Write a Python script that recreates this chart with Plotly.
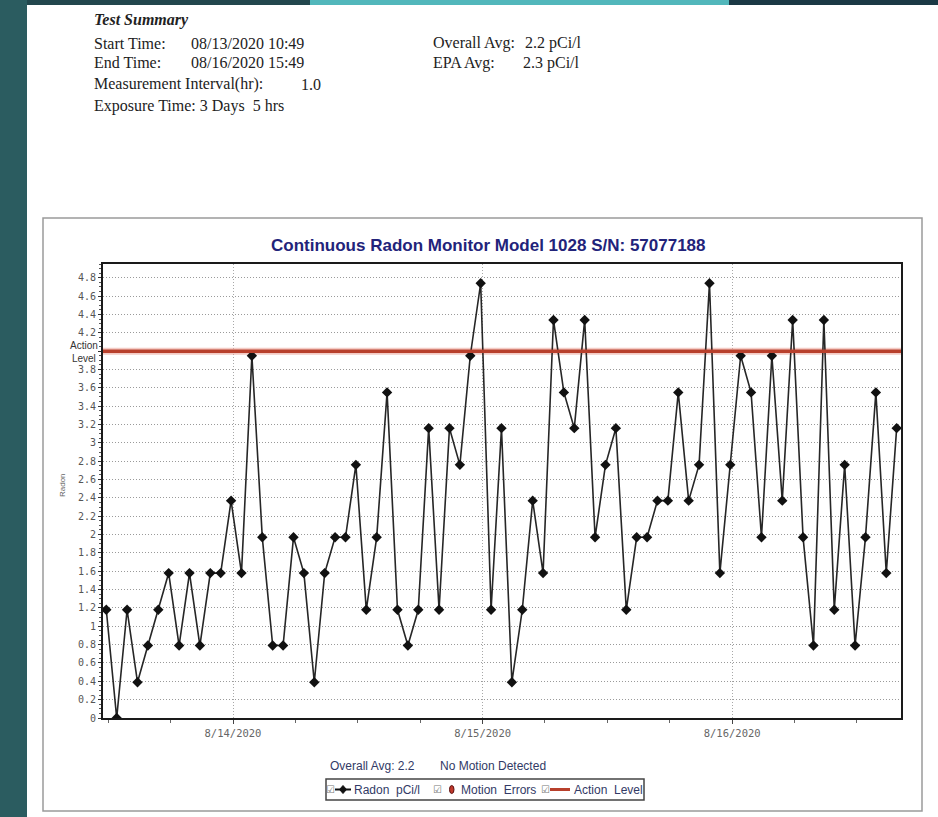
import pandas as pd
import plotly.graph_objects as go

# ---- measurement data (pCi/l), one reading per hour ----
START = "2020-08-13 11:49"
RADON = [
    1.18, 0.00, 1.18, 0.39, 0.79, 1.18, 1.58, 0.79, 1.58, 0.79,
    1.58, 1.58, 2.37, 1.58, 3.95, 1.97, 0.79, 0.79, 1.97, 1.58,
    0.39, 1.58, 1.97, 1.97, 2.76, 1.18, 1.97, 3.55, 1.18, 0.79,
    1.18, 3.16, 1.18, 3.16, 2.76, 3.95, 4.74, 1.18, 3.16,
    0.39, 1.18, 2.37, 1.58, 4.34, 3.55, 3.16, 4.34, 1.97, 2.76,
    3.16, 1.18, 1.97, 1.97, 2.37, 2.37, 3.55, 2.37, 2.76,
    4.74, 1.58, 2.76, 3.95, 3.55, 1.97, 3.95, 2.37, 4.34, 1.97,
    0.79, 4.34, 1.18, 2.76, 0.79, 1.97, 3.55, 1.58, 3.16,
]
ACTION_LEVEL = 4.0
X_RANGE = ["2020-08-13 11:30", "2020-08-16 16:14"]
DAY_TICKS = ["2020-08-14", "2020-08-15", "2020-08-16"]
DAY_LABELS = ["8/14/2020", "8/15/2020", "8/16/2020"]
Y_TICKS = [0, 0.2, 0.4, 0.6, 0.8, 1, 1.2, 1.4, 1.6, 1.8, 2, 2.2, 2.4,
           2.6, 2.8, 3, 3.2, 3.4, 3.6, 3.8, 4, 4.2, 4.4, 4.6, 4.8]

SUMMARY_LEFT = [
    ("Start Time:", "08/13/2020 10:49"),
    ("End Time:", "08/16/2020 15:49"),
]
SUMMARY_RIGHT = [
    ("Overall Avg:", "2.2 pCi/l"),
    ("EPA Avg:", "2.3 pCi/l"),
]

times = pd.date_range(START, periods=len(RADON), freq="h")

# ---- page geometry (pixels) ----
WIDTH, HEIGHT = 938, 817
L, R, T, B = 103, 901, 264, 718
PW, PH = R - L, B - T


def px(x):
    return (x - L) / PW


def py(y):
    return (B - y) / PH


SERIF = "Liberation Serif"
SANS = "Liberation Sans"
MONO = "DejaVu Sans Mono"
NAVY = "#22237a"
LEG_TXT = "#323a66"
RED = "#b8402c"

fig = go.Figure()

# action-level line (with a faint halo) and the radon series
fig.add_trace(go.Scatter(
    x=X_RANGE, y=[ACTION_LEVEL, ACTION_LEVEL], mode="lines",
    line=dict(color="rgba(235,160,150,0.55)", width=7),
    hoverinfo="skip", showlegend=False))
fig.add_trace(go.Scatter(
    x=times, y=RADON, mode="lines+markers", name="Radon pCi/l",
    line=dict(color="#262626", width=1.6),
    marker=dict(symbol="diamond", size=8, color="#111111"),
    showlegend=False))
fig.add_trace(go.Scatter(
    x=X_RANGE, y=[ACTION_LEVEL, ACTION_LEVEL], mode="lines", name="Action Level",
    line=dict(color=RED, width=3.5), showlegend=False))

y_text = ["" if v == ACTION_LEVEL else f"{v:g}" for v in Y_TICKS]

fig.update_xaxes(
    type="date", range=X_RANGE,
    tickmode="array", tickvals=DAY_TICKS, ticktext=DAY_LABELS,
    ticks="outside", ticklen=4, tickcolor="#444",
    tickfont=dict(family=MONO, size=10.5, color="#666"),
    showgrid=True, gridcolor="#a8a8a8", griddash="1px,2px", gridwidth=1,
    minor=dict(dtick=6 * 3600 * 1000, tick0="2020-08-13 12:00",
               ticks="outside", ticklen=3, tickcolor="#666", showgrid=False),
    showline=True, linecolor="#1a1a1a", linewidth=2, mirror=True,
    zeroline=False,
)
fig.update_yaxes(
    range=[0, 4.95],
    tickmode="array", tickvals=Y_TICKS, ticktext=y_text,
    ticks="outside", ticklen=3, tickcolor="#333",
    tickfont=dict(family=MONO, size=10, color="#555"),
    showgrid=True, gridcolor="#9a9a9a", griddash="1px,2px", gridwidth=1,
    minor=dict(dtick=0.05, ticks="outside", ticklen=2, tickcolor="#555",
               showgrid=False),
    showline=True, linecolor="#1a1a1a", linewidth=2, mirror=True,
    zeroline=False,
)

shapes = []
# dark slide background strips around the white page
shapes.append(dict(type="rect", xref="paper", yref="paper",
                   x0=px(0), x1=px(27), y0=py(HEIGHT), y1=py(0),
                   fillcolor="#2b5c60", line=dict(width=0), layer="above"))
shapes.append(dict(type="rect", xref="paper", yref="paper",
                   x0=px(27), x1=px(310), y0=py(5), y1=py(0),
                   fillcolor="#22474d", line=dict(width=0), layer="above"))
shapes.append(dict(type="rect", xref="paper", yref="paper",
                   x0=px(310), x1=px(729), y0=py(5), y1=py(0),
                   fillcolor="#52b7bb", line=dict(width=0), layer="above"))
shapes.append(dict(type="rect", xref="paper", yref="paper",
                   x0=px(729), x1=px(WIDTH), y0=py(5), y1=py(0),
                   fillcolor="#1b3945", line=dict(width=0), layer="above"))
# chart frame
shapes.append(dict(type="rect", xref="paper", yref="paper",
                   x0=px(43), x1=px(922), y0=py(811), y1=py(218),
                   line=dict(color="#9a9a9a", width=1.5), layer="below"))
# legend box
shapes.append(dict(type="rect", xref="paper", yref="paper",
                   x0=px(326), x1=px(644), y0=py(800), y1=py(779),
                   line=dict(color="#444", width=1.5), layer="above"))
LY = 789.5
# radon symbol: line + diamond
shapes.append(dict(type="line", xref="paper", yref="paper",
                   x0=px(335), x1=px(351), y0=py(LY), y1=py(LY),
                   line=dict(color="#111", width=2)))
d = 3.5
shapes.append(dict(type="path", xref="paper", yref="paper",
                   path=(f"M{px(343)},{py(LY - d - 0.5)} L{px(343 + d)},{py(LY)} "
                         f"L{px(343)},{py(LY + d + 0.5)} L{px(343 - d)},{py(LY)} Z"),
                   fillcolor="#111", line=dict(color="#111", width=1)))
# motion errors symbol
shapes.append(dict(type="circle", xref="paper", yref="paper",
                   x0=px(449.5), x1=px(454), y0=py(LY + 4), y1=py(LY - 4),
                   fillcolor="#c0392b", line=dict(color="#5a1010", width=1)))
# action level symbol
shapes.append(dict(type="line", xref="paper", yref="paper",
                   x0=px(550), x1=px(570), y0=py(LY), y1=py(LY),
                   line=dict(color=RED, width=3)))

ann = []


def text(x, y, s, size, family=SERIF, color="#222", anchor="left", **kw):
    ann.append(dict(x=px(x), y=py(y), xref="paper", yref="paper", text=s,
                    showarrow=False, xanchor=anchor, yanchor="middle",
                    font=dict(family=family, size=size, color=color), **kw))


# test summary header
HS = 16
text(92, 20, "<b><i>Test Summary</i></b>", HS)
for i, (lab, val) in enumerate(SUMMARY_LEFT):
    y = 43 + i * 19.5
    text(92, y, lab, HS)
    text(189, y, val, HS)
text(92, 84, "Measurement Interval(hr):", HS)
text(299, 84, "1.0", HS)
text(92, 106, "Exposure Time: 3 Days  5 hrs", HS)
for i, (lab, val) in enumerate(SUMMARY_RIGHT):
    y = 43 + i * 19.5
    text(431, y, lab, HS)
    text(521 if i else 523, y, val, HS)

# chart title and axis annotations
text(488, 246, "<b>Continuous Radon Monitor Model 1028 S/N: 57077188</b>", 17,
     family=SANS, color=NAVY, anchor="center")
text(100, 352, "Action<br>Level", 10, family=SANS, color="#333", anchor="right")
text(62, 485, "Radon", 8, family=SANS, color="#666", anchor="center",
     textangle=-90)

# footer: averages and legend
FS = 12
text(328, 766, "Overall Avg: 2.2", FS, family=SANS, color=LEG_TXT)
text(438, 766, "No Motion Detected", FS, family=SANS, color=LEG_TXT)
for cx in (330, 437, 545):
    text(cx, LY, "☑", 10, family="DejaVu Sans", color="#777", anchor="center")
text(352, LY, "Radon  pCi/l", FS, family=SANS, color=LEG_TXT)
text(459, LY, "Motion  Errors", FS, family=SANS, color=LEG_TXT)
text(572, LY, "Action  Level", FS, family=SANS, color=LEG_TXT)

fig.update_layout(
    width=WIDTH, height=HEIGHT,
    margin=dict(l=L, r=WIDTH - R, t=T, b=HEIGHT - B),
    paper_bgcolor="white", plot_bgcolor="white",
    shapes=shapes, annotations=ann, showlegend=False,
)

fig.write_html("out.html")
